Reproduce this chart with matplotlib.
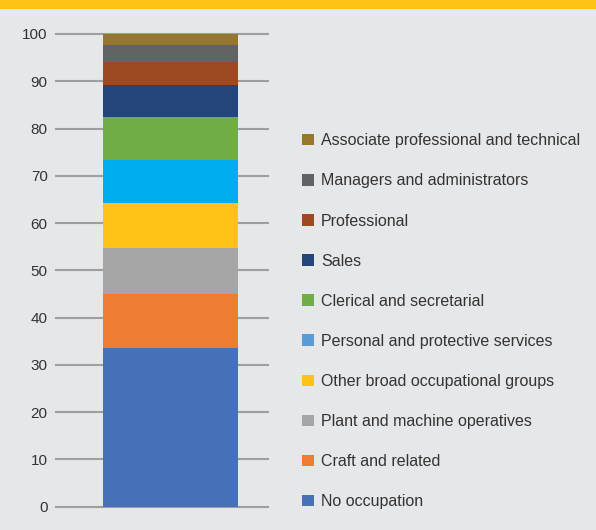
import matplotlib.pyplot as plt
from matplotlib.patches import Patch, Rectangle

# occupational groups, bottom of the stack first
groups = [
    "No occupation",
    "Craft and related",
    "Plant and machine operatives",
    "Other broad occupational groups",
    "Personal and protective services",
    "Clerical and secretarial",
    "Sales",
    "Professional",
    "Managers and administrators",
    "Associate professional and technical",
]
shares = [33.6, 11.4, 9.7, 9.5, 9.1, 9.1, 6.8, 4.9, 3.6, 2.3]
bar_colors = ["#4671B9", "#EE7D31", "#A5A5A5", "#FEC314", "#00ADEE",
              "#70AD47", "#23457A", "#9D4A22", "#616463", "#95772E"]
key_colors = ["#4671B9", "#EE7D31", "#A5A5A5", "#FEC314", "#5B9BD5",
              "#70AD47", "#23457A", "#9D4A22", "#616463", "#95772E"]
yticks = [0, 10, 20, 30, 40, 50, 60, 70, 80, 90, 100]

plt.rcParams["font.family"] = ["Liberation Sans", "DejaVu Sans"]
bg = "#E6E7E9"

fig = plt.figure(figsize=(5.96, 5.30), dpi=100, facecolor=bg)
fig.patches.append(Rectangle((0, 1 - 8.5 / 530), 1, 8.5 / 530, transform=fig.transFigure,
                             facecolor="#FEC314", edgecolor="none"))

ax = fig.add_axes([56 / 596, (530 - 506.7) / 530, 212 / 596, 472.7 / 530])
ax.set_facecolor(bg)

bottom = 0
for g, v, c in zip(groups, shares, bar_colors):
    ax.bar(0, v, width=1, bottom=bottom, color=c, label=g, zorder=2)
    bottom += v

ax.set_xlim(-0.848, 0.722)
ax.set_ylim(0, 100)
ax.set_yticks(yticks)
ax.set_xticks([])
ax.tick_params(axis="y", length=0, pad=6, labelsize=11, labelcolor="#333333")
ax.yaxis.grid(True, color="#9E9E9E", linewidth=1.5)
for line in ax.get_ygridlines():
    line.set_clip_on(False)
ax.set_axisbelow(True)
for s in ax.spines.values():
    s.set_visible(False)

handles = [Patch(facecolor=c, edgecolor="none") for c in key_colors]
leg = fig.legend(handles[::-1], groups[::-1], loc="upper left",
                 bbox_to_anchor=(288 / 596, 1 - 119 / 530), frameon=False,
                 fontsize=11.5, labelcolor="#333333", handlelength=0.72,
                 handleheight=0.72, handletextpad=0.45, labelspacing=1.57)

fig.savefig("out.png", dpi=100, facecolor=bg)
